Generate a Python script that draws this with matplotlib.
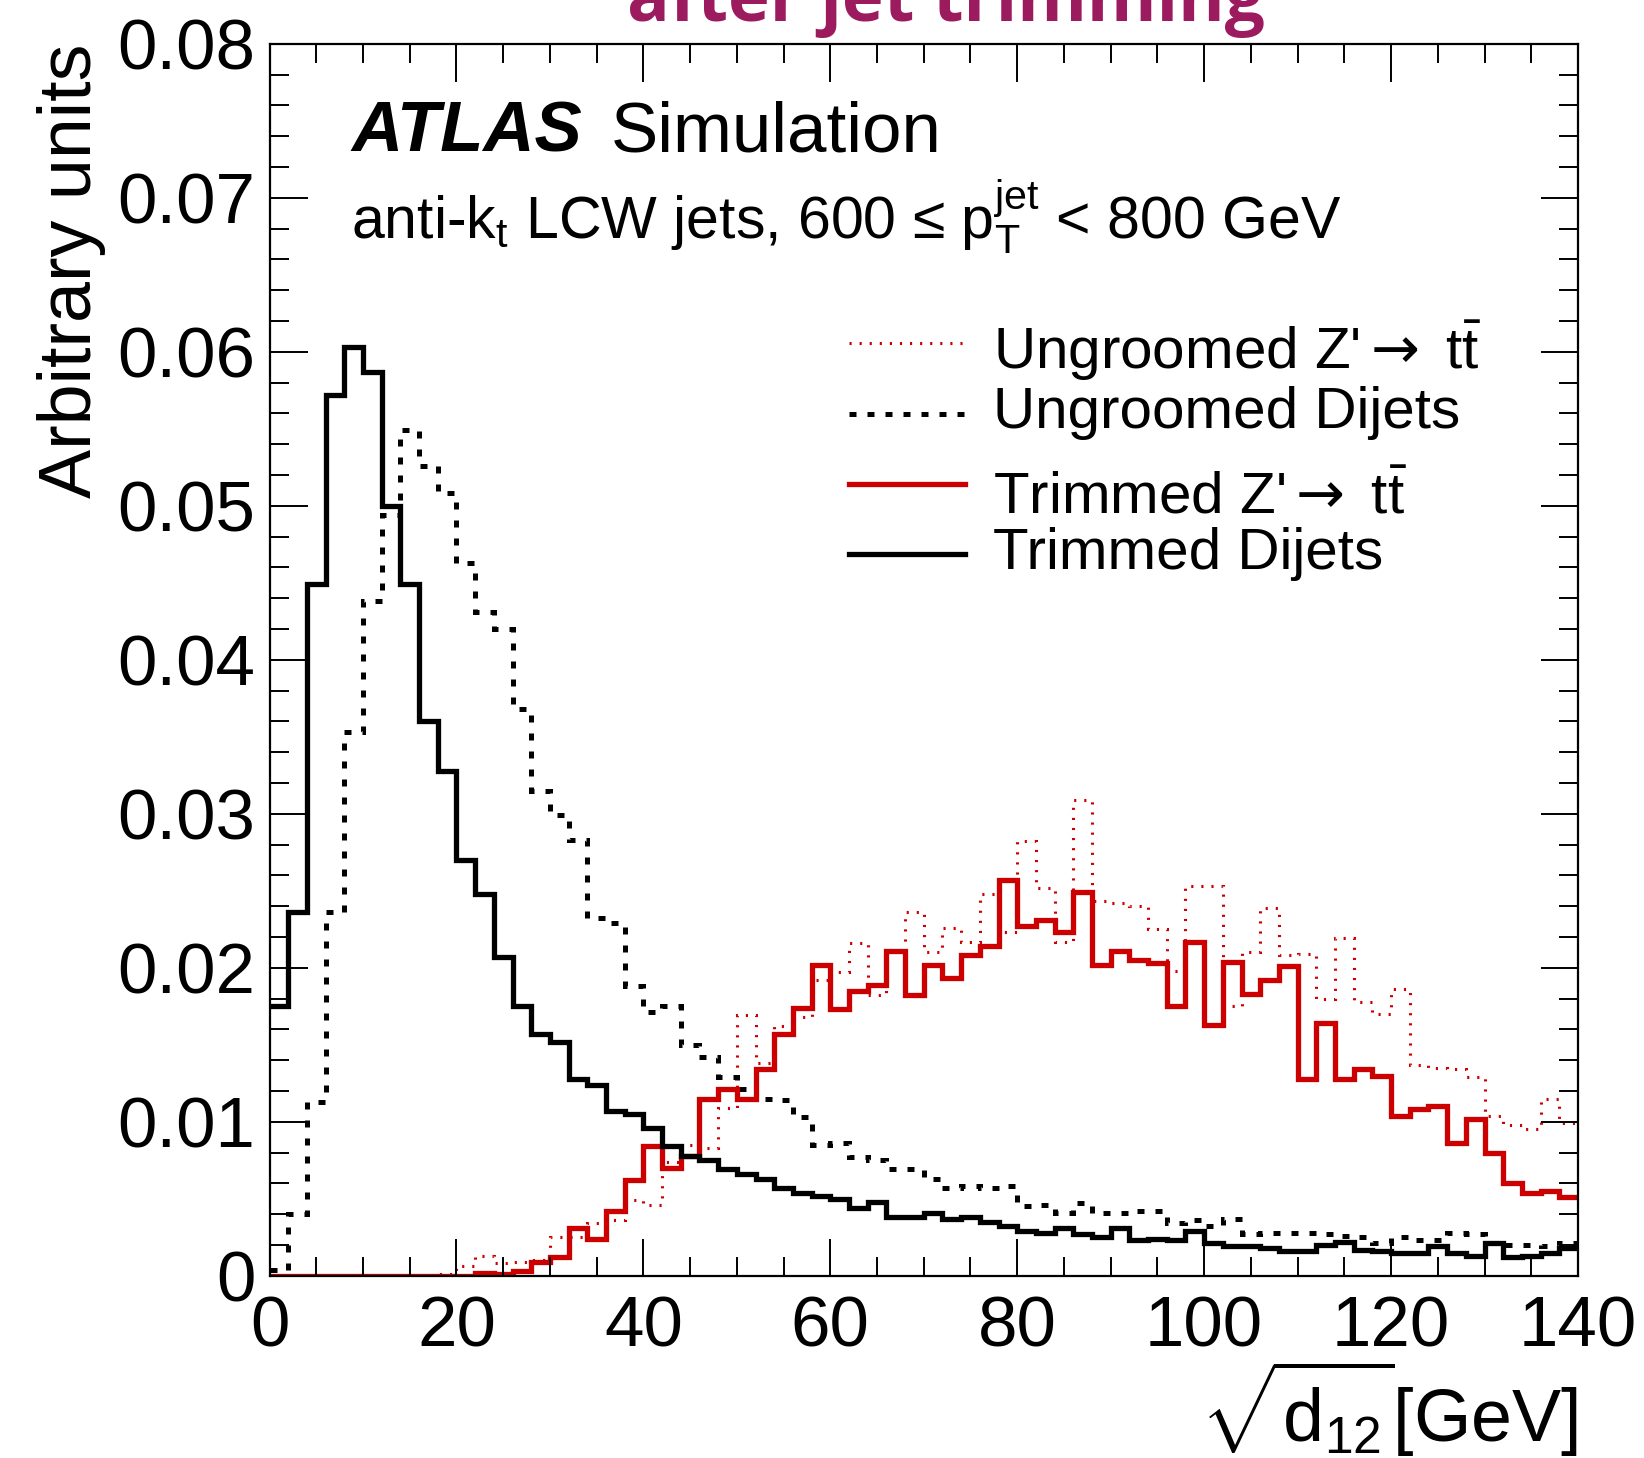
import matplotlib
matplotlib.use("Agg")
import matplotlib.pyplot as plt
from matplotlib.ticker import MultipleLocator, FuncFormatter
from matplotlib.lines import Line2D
import numpy as np

plt.rcParams['font.family'] = ['Liberation Sans', 'DejaVu Sans']
plt.rcParams['mathtext.fontset'] = 'custom'
plt.rcParams['mathtext.rm'] = 'Liberation Sans'
plt.rcParams['mathtext.it'] = 'Liberation Sans:italic'
plt.rcParams['mathtext.bf'] = 'Liberation Sans:bold'
plt.rcParams['mathtext.sf'] = 'DejaVu Sans'

# binning: sqrt(d12) in 2 GeV bins from 0 to 140
edges = np.arange(0, 141, 2)

# Trimmed Dijets (solid black)
trim_dijet = [0.0175, 0.0236, 0.0449, 0.0572, 0.0603, 0.0587, 0.0500, 0.0449, 0.0360, 0.0328,
              0.0270, 0.0248, 0.0207, 0.0175, 0.0157, 0.0152, 0.0128, 0.0124, 0.0107, 0.0105,
              0.0096, 0.0084, 0.0078, 0.0075, 0.0069, 0.0066, 0.0063, 0.0057, 0.0054, 0.0052,
              0.0050, 0.0044, 0.0048, 0.0038, 0.0038, 0.0041, 0.0037, 0.0038, 0.0035, 0.0032,
              0.0029, 0.0028, 0.0031, 0.0027, 0.0025, 0.0031, 0.0023, 0.0024, 0.0023, 0.0029,
              0.0021, 0.0019, 0.0019, 0.0018, 0.0016, 0.0016, 0.0020, 0.0022, 0.0017, 0.0016,
              0.0015, 0.0015, 0.0019, 0.0015, 0.0013, 0.0021, 0.0012, 0.0013, 0.0015, 0.0018]

# Ungroomed Dijets (dotted black)
ungr_dijet = [0.0004, 0.0040, 0.0113, 0.0236, 0.0353, 0.0438, 0.0494, 0.0549, 0.0526, 0.0508,
              0.0463, 0.0431, 0.0420, 0.0368, 0.0315, 0.0299, 0.0283, 0.0232, 0.0229, 0.0188,
              0.0171, 0.0175, 0.0150, 0.0142, 0.0129, 0.0121, 0.0115, 0.0114, 0.0103, 0.0085,
              0.0086, 0.0077, 0.0075, 0.0069, 0.0069, 0.0063, 0.0057, 0.0058, 0.0057, 0.0058,
              0.0045, 0.0046, 0.0041, 0.0047, 0.0041, 0.0041, 0.0042, 0.0042, 0.0034, 0.0036,
              0.0032, 0.0037, 0.0027, 0.0028, 0.0028, 0.0028, 0.0027, 0.0026, 0.0025, 0.0021,
              0.0025, 0.0023, 0.0023, 0.0028, 0.0027, 0.0021, 0.0020, 0.0020, 0.0019, 0.0021]

# Trimmed Z'->tt (solid red)
trim_zp = [0, 0, 0, 0, 0, 0, 0, 0, 0, 0,
           0, 0.0002, 0.0001, 0.0003, 0.0009, 0.0012, 0.0031, 0.0024, 0.0042, 0.0062,
           0.0084, 0.0070, 0.0078, 0.0115, 0.0121, 0.0115, 0.0134, 0.0157, 0.0174, 0.0202,
           0.0173, 0.0185, 0.0189, 0.0211, 0.0182, 0.0202, 0.0193, 0.0208, 0.0214, 0.0257,
           0.0227, 0.0231, 0.0223, 0.0249, 0.0202, 0.0211, 0.0205, 0.0203, 0.0175, 0.0217,
           0.0163, 0.0204, 0.0183, 0.0192, 0.0201, 0.0128, 0.0164, 0.0128, 0.0134, 0.0130,
           0.0104, 0.0108, 0.0110, 0.0086, 0.0102, 0.0080, 0.0060, 0.0054, 0.0055, 0.0051]

# Ungroomed Z'->tt (dotted red)
ungr_zp = [0, 0, 0, 0, 0, 0, 0, 0, 0, 0.0001,
           0.0006, 0.0013, 0.0008, 0.0009, 0.0010, 0.0025, 0.0025, 0.0034, 0.0036, 0.0049,
           0.0046, 0.0074, 0.0085, 0.0083, 0.0109, 0.0169, 0.0138, 0.0162, 0.0168, 0.0192,
           0.0197, 0.0216, 0.0182, 0.0211, 0.0236, 0.0210, 0.0226, 0.0217, 0.0248, 0.0223,
           0.0282, 0.0252, 0.0217, 0.0309, 0.0243, 0.0242, 0.0240, 0.0225, 0.0198, 0.0253,
           0.0253, 0.0175, 0.0210, 0.0239, 0.0208, 0.0209, 0.0180, 0.0219, 0.0178, 0.0170,
           0.0186, 0.0137, 0.0135, 0.0134, 0.0129, 0.0104, 0.0098, 0.0095, 0.0115, 0.0099]

RED = '#cc0000'
W, H = 1644, 1458

fig = plt.figure(figsize=(W / 100, H / 100), dpi=100)
ax = fig.add_axes([269.5 / W, 1 - 1275.7 / H, (1578 - 269.5) / W, (1275.7 - 43.7) / H])

red_dot = dict(color=RED, lw=2.2, ls=(0, (0.7, 2.6)))
blk_dot = dict(color='black', lw=3.6, ls=(0, (1.4, 2.2)))
red_sol = dict(color=RED, lw=3.8)
blk_sol = dict(color='black', lw=3.8)

ax.stairs(ungr_zp, edges, baseline=None, **red_dot)
ax.stairs(ungr_dijet, edges, baseline=None, **blk_dot)
ax.stairs(trim_zp, edges, baseline=None, **red_sol)
ax.stairs(trim_dijet, edges, baseline=None, **blk_sol)

ax.set_xlim(0, 140)
ax.set_ylim(0, 0.08)
ax.xaxis.set_major_locator(MultipleLocator(20))
ax.xaxis.set_minor_locator(MultipleLocator(5))
ax.yaxis.set_major_locator(MultipleLocator(0.01))
ax.yaxis.set_minor_locator(MultipleLocator(0.002))
ax.yaxis.set_major_formatter(FuncFormatter(lambda v, p: '0' if abs(v) < 1e-9 else f'{v:.2f}'))
ax.tick_params(which='both', direction='in', top=True, right=True, width=1.4)
ax.tick_params(which='major', length=27, labelsize=51)
ax.tick_params(which='minor', length=14)
ax.tick_params(axis='x', pad=14)
ax.tick_params(axis='y', pad=10)
for s in ax.spines.values():
    s.set_linewidth(1.6)

ax.set_ylabel('Arbitrary units', fontsize=53, loc='top')
ax.yaxis.set_label_coords(-0.125, 1.0)

fig.text(1578 / W, 1 - 1442 / H, r'$\sqrt{\mathrm{d}_{12}}$[GeV]', ha='right', va='baseline', fontsize=53)

# ATLAS label
fig.text(351 / W, 1 - 152 / H, 'ATLAS', fontsize=51, fontweight='bold', fontstyle='italic',
         va='baseline')
fig.text(611 / W, 1 - 152 / H, 'Simulation', fontsize=51, va='baseline')
fig.text(351 / W, 1 - 239 / H,
         r'anti-k$_\mathrm{t}$ LCW jets, 600 ≤ p$_\mathrm{T}^\mathrm{jet}$ < 800 GeV',
         fontsize=42.5, va='baseline')

# legend
arrow = r"$\mathsf{{\rightarrow}}$"
ttbar = r"t$\bar{\mathrm{t}}$"
entries = [("Ungroomed Z'" + arrow + " " + ttbar, red_dot, 343, 369),
           ("Ungroomed Dijets", blk_dot, 414, 428),
           ("Trimmed Z'" + arrow + " " + ttbar, red_sol, 484, 514),
           ("Trimmed Dijets", blk_sol, 554, 569)]
for label, style, ly, ty in entries:
    fig.add_artist(Line2D([849 / W, 965 / W], [1 - ly / H, 1 - ly / H], **style))
    fig.text(993 / W, 1 - ty / H, label, fontsize=42, va='baseline')

# cropped slide title above the plot
fig.text(946 / W, 1 - 21 / H, 'after jet trimming', ha='center', va='baseline',
         fontsize=51, fontweight='bold', color='#9b1b5e', family=['Open Sans', 'DejaVu Sans'])

fig.savefig('out.png', dpi=100)
